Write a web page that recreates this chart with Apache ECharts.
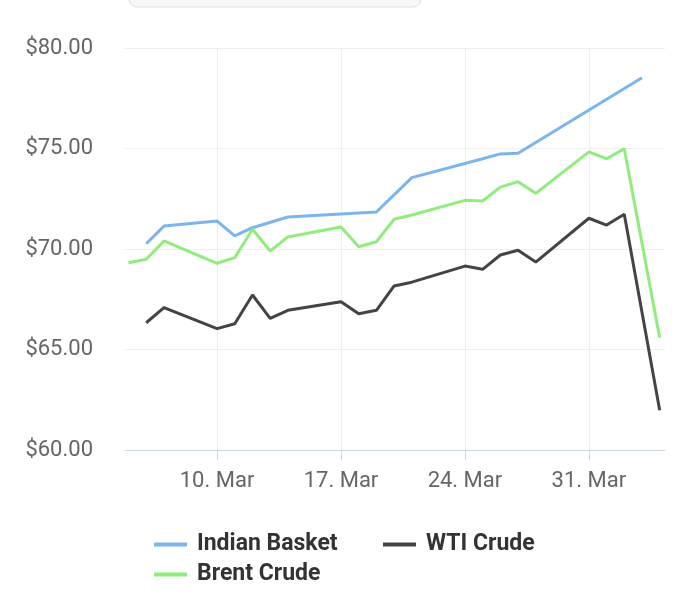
<!DOCTYPE html>
<html>
<head>
<meta charset="utf-8">
<script src="https://cdn.jsdelivr.net/npm/echarts@6/dist/echarts.min.js"></script>
<style>
  html, body { margin: 0; padding: 0; background: #fff; }
  #chart { width: 697px; height: 595px; }
</style>
</head>
<body>
<div id="chart"></div>
<script>
// values (USD per barrel)
var basketDates = ['2025-03-06', '2025-03-07', '2025-03-10', '2025-03-11', '2025-03-12', '2025-03-14',
  '2025-03-19', '2025-03-21', '2025-03-25', '2025-03-26', '2025-03-27', '2025-04-03'];
var basketValues = [70.26, 71.14, 71.39, 70.65, 71.06, 71.59, 71.84, 73.55, 74.49, 74.73, 74.76, 78.52];

var wtiDates = ['2025-03-06', '2025-03-07', '2025-03-10', '2025-03-11', '2025-03-12', '2025-03-13', '2025-03-14',
  '2025-03-17', '2025-03-18', '2025-03-19', '2025-03-20', '2025-03-21', '2025-03-24', '2025-03-25', '2025-03-26',
  '2025-03-27', '2025-03-28', '2025-03-31', '2025-04-01', '2025-04-02', '2025-04-04'];
var wtiValues = [66.33, 67.08, 66.04, 66.28, 67.71, 66.55, 66.95, 67.38, 66.78, 66.95, 68.16, 68.35, 69.15, 68.99,
  69.70, 69.94, 69.35, 71.53, 71.19, 71.73, 61.98];

var brentDates = ['2025-03-05', '2025-03-06', '2025-03-07', '2025-03-10', '2025-03-11', '2025-03-12', '2025-03-13',
  '2025-03-14', '2025-03-17', '2025-03-18', '2025-03-19', '2025-03-20', '2025-03-21', '2025-03-24', '2025-03-25',
  '2025-03-26', '2025-03-27', '2025-03-28', '2025-03-31', '2025-04-01', '2025-04-02', '2025-04-04'];
var brentValues = [69.32, 69.49, 70.40, 69.29, 69.57, 70.98, 69.90, 70.60, 71.09, 70.11, 70.36, 71.48, 71.69,
  72.42, 72.39, 73.08, 73.35, 72.77, 74.83, 74.49, 74.99, 65.59];

var tickDates = ['2025-03-10', '2025-03-17', '2025-03-24', '2025-03-31'];
var tickLabels = ['10. Mar', '17. Mar', '24. Mar', '31. Mar'];

function ts(s) {
  var p = s.split('-');
  return Date.UTC(+p[0], +p[1] - 1, +p[2]);
}

function pairs(dates, values) {
  var out = [];
  for (var i = 0; i < dates.length; i++) {
    out.push([ts(dates[i]), values[i]]);
  }
  return out;
}

var tickTs = tickDates.map(ts);
var day = 24 * 3600 * 1000;

function legendAt(name, left, top) {
  return {
    data: [name],
    left: left,
    top: top,
    padding: 0,
    icon: 'rect',
    itemWidth: 33,
    itemHeight: 4,
    selectedMode: false,
    textStyle: {
      color: '#333',
      fontFamily: 'Roboto',
      fontWeight: 'bold',
      fontSize: 23,
      padding: [0, 0, 0, 5]
    }
  };
}

var chart = echarts.init(document.getElementById('chart'));

var option = {
  backgroundColor: '#fff',
  animation: false,
  color: ['#7cb5ec', '#434348', '#90ed7d'],
  grid: { left: 125, right: 32, top: 48, bottom: 145 },
  graphic: [{
    type: 'rect',
    shape: { x: 129, y: -30, width: 292, height: 37, r: 8 },
    style: { fill: '#f7f7f7', stroke: '#e0e0e0', lineWidth: 1 }
  }],
  legend: [
    legendAt('Indian Basket', 154, 533),
    legendAt('WTI Crude', 383, 533),
    legendAt('Brent Crude', 154, 563)
  ],
  xAxis: {
    type: 'value',
    min: ts('2025-03-10') - 5.2 * day,
    max: ts('2025-03-31') + 4.3 * day,
    axisLine: { lineStyle: { color: '#ccd6eb', width: 1 } },
    axisTick: { show: true, length: 10, lineStyle: { color: '#ccd6eb' }, customValues: tickTs },
    axisLabel: {
      customValues: tickTs,
      color: '#666',
      fontFamily: 'Roboto',
      fontSize: 22,
      margin: 20,
      formatter: function (v) {
        var i = tickTs.indexOf(v);
        return i >= 0 ? tickLabels[i] : '';
      }
    },
    splitLine: { show: true, lineStyle: { color: '#eeeeee', width: 1 } }
  },
  yAxis: {
    type: 'value',
    min: 60,
    max: 80,
    interval: 5,
    axisLine: { show: false },
    axisTick: { show: false },
    axisLabel: {
      color: '#666',
      fontFamily: 'Roboto',
      fontSize: 22,
      margin: 32,
      padding: [4, 0, 0, 0],
      formatter: function (v) { return '$' + v.toFixed(2); }
    },
    splitLine: { lineStyle: { color: '#eeeeee', width: 1 } }
  },
  series: [
    {
      name: 'Indian Basket',
      type: 'line',
      data: pairs(basketDates, basketValues),
      showSymbol: false,
      lineStyle: { width: 3 }
    },
    {
      name: 'WTI Crude',
      type: 'line',
      data: pairs(wtiDates, wtiValues),
      showSymbol: false,
      lineStyle: { width: 3 }
    },
    {
      name: 'Brent Crude',
      type: 'line',
      data: pairs(brentDates, brentValues),
      showSymbol: false,
      lineStyle: { width: 3 }
    }
  ]
};

chart.setOption(option);
</script>
</body>
</html>
